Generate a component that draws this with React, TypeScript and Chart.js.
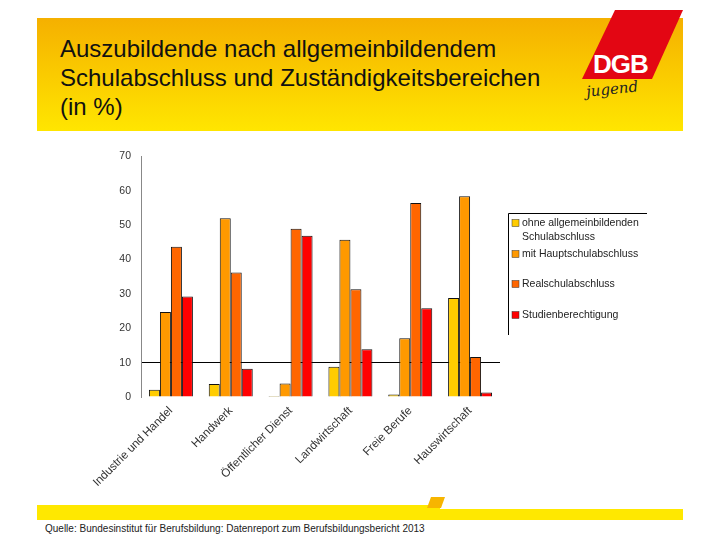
import React, { useEffect, useRef } from "react";
import { Chart, registerables } from "chart.js";

Chart.register(...registerables);

const categories = [
  "Industrie und Handel",
  "Handwerk",
  "Öffentlicher Dienst",
  "Landwirtschaft",
  "Freie Berufe",
  "Hauswirtschaft",
];
const seriesNames = [
  ["ohne allgemeinbildenden", "Schulabschluss"],
  ["mit Hauptschulabschluss"],
  ["Realschulabschluss"],
  ["Studienberechtigung"],
];
const ohneAbschluss = [2.1, 3.8, 0.3, 8.8, 0.7, 28.8];
const hauptschule = [24.7, 52.0, 3.9, 45.7, 17.1, 58.4];
const realschule = [43.7, 36.2, 48.9, 31.3, 56.4, 11.6];
const studienberechtigung = [29.2, 8.2, 46.9, 13.9, 25.8, 1.3];
const seriesColors = ["#FFCC00", "#FF9900", "#FF6600", "#FF0000"];
const yTicks = [0, 10, 20, 30, 40, 50, 60, 70];

const FONT = "'Liberation Sans', Arial, sans-serif";

const legendPlugin = {
  id: "customLegend",
  afterDraw(chart: any) {
    const ctx = chart.ctx;
    ctx.save();
    const x0 = 508;
    const top = 73;
    ctx.strokeStyle = "#000";
    ctx.lineWidth = 1;
    ctx.beginPath();
    ctx.moveTo(x0 + 0.5, top + 0.5);
    ctx.lineTo(647, top + 0.5);
    ctx.moveTo(x0 + 0.5, top + 0.5);
    ctx.lineTo(x0 + 0.5, 195);
    ctx.stroke();
    const ys = [83, 114, 144, 175];
    ctx.font = "10.5px " + FONT;
    ctx.textBaseline = "middle";
    ctx.textAlign = "left";
    chart.data.datasets.forEach((ds: any, i: number) => {
      const y = ys[i];
      ctx.fillStyle = ds.backgroundColor;
      ctx.fillRect(512, y - 3.5, 7, 7);
      ctx.strokeStyle = "#333";
      ctx.lineWidth = 0.5;
      ctx.strokeRect(512, y - 3.5, 7, 7);
      ctx.fillStyle = "#222";
      const lines = seriesNames[i];
      lines.forEach((t, j) => ctx.fillText(t, 522, y + j * 14));
    });
    ctx.restore();
  },
};

function ChartBox() {
  const ref = useRef<HTMLCanvasElement>(null);
  useEffect(() => {
    if (!ref.current) return;
    const data = [ohneAbschluss, hauptschule, realschule, studienberechtigung];
    const chart = new Chart(ref.current, {
      type: "bar",
      data: {
        labels: categories,
        datasets: data.map((d, i) => ({
          label: seriesNames[i].join(" "),
          data: d,
          backgroundColor: seriesColors[i],
          borderColor: "#111",
          borderWidth: { top: 1, left: 1, right: 1, bottom: 0 },
          borderSkipped: false,
          barPercentage: 1,
          categoryPercentage: 0.735,
        })),
      },
      options: {
        animation: false,
        responsive: false,
        maintainAspectRatio: false,
        layout: { padding: { left: 101, right: 220, top: 14, bottom: 13 } },
        plugins: { legend: { display: false }, tooltip: { enabled: false } },
        scales: {
          x: {
            grid: { display: false, drawTicks: false },
            border: { display: false },
            ticks: {
              minRotation: 45,
              maxRotation: 45,
              padding: 7,
              color: "#333",
              font: { family: FONT, size: 11.6 },
              autoSkip: false,
            },
            afterFit: (s: any) => {
              s.height = 90;
            },
          },
          y: {
            min: 0,
            max: 70,
            afterBuildTicks: (s: any) => {
              s.ticks = yTicks.map((v) => ({ value: v }));
            },
            grid: {
              drawTicks: false,
              color: (c: any) => (c.tick && c.tick.value === 10 ? "#000" : "rgba(0,0,0,0)"),
              lineWidth: 1,
            },
            border: { display: true, color: "#888", width: 1 },
            ticks: {
              padding: 10,
              color: "#333",
              font: { family: FONT, size: 10.5 },
            },
            afterFit: (s: any) => {
              s.width = 40;
            },
          },
        },
      },
      plugins: [legendPlugin],
    });
    return () => chart.destroy();
  }, []);
  return (
    <canvas
      ref={ref}
      width={720}
      height={360}
      style={{ position: "absolute", left: 0, top: 140, width: 720, height: 360 }}
    />
  );
}

export default function App() {
  return (
    <div
      style={{
        position: "fixed",
        left: 0,
        top: 0,
        width: 720,
        height: 540,
        background: "#fff",
        overflow: "hidden",
        fontFamily: FONT,
      }}
    >
      <svg width={720} height={540} style={{ position: "absolute", left: 0, top: 0 }}>
        <defs>
          <linearGradient id="bannerGrad" x1="0" y1="0" x2="0" y2="1">
            <stop offset="0" stopColor="#F5B000" />
            <stop offset="1" stopColor="#FFE600" />
          </linearGradient>
        </defs>
        <rect x={37} y={18} width={646} height={113} fill="url(#bannerGrad)" />
        <polygon points="615,10 683,10 652,79 582,79" fill="#E30613" />
        <polygon points="37,505 440,505 440,520 37,520" fill="#FFE800" />
        <polygon points="440,509 683,509 683,520 440,520" fill="#FFE800" />
        <polygon points="431,497 445,497 441,508 427,508" fill="#F7B500" />
      </svg>
      <div
        style={{
          position: "absolute",
          left: 60,
          top: 34,
          fontSize: 24,
          lineHeight: "29px",
          color: "#111",
          whiteSpace: "nowrap",
        }}
      >
        Auszubildende nach allgemeinbildendem
        <br />
        Schulabschluss und Zuständigkeitsbereichen
        <br />
        (in %)
      </div>
      <div
        style={{
          position: "absolute",
          left: 593,
          top: 51,
          fontSize: 26,
          lineHeight: "26px",
          fontWeight: "bold",
          color: "#fff",
          letterSpacing: -1,
        }}
      >
        DGB
      </div>
      <div
        style={{
          position: "absolute",
          left: 586,
          top: 80,
          fontSize: 15,
          lineHeight: "18px",
          fontStyle: "italic",
          fontFamily: "'DejaVu Serif', serif",
          color: "#222",
          transform: "rotate(-6deg)",
        }}
      >
        jugend
      </div>
      <ChartBox />
      <div
        style={{
          position: "absolute",
          left: 45,
          top: 523,
          fontSize: 10,
          lineHeight: "12px",
          color: "#222",
          whiteSpace: "nowrap",
        }}
      >
        Quelle: Bundesinstitut für Berufsbildung: Datenreport zum Berufsbildungsbericht 2013
      </div>
    </div>
  );
}
